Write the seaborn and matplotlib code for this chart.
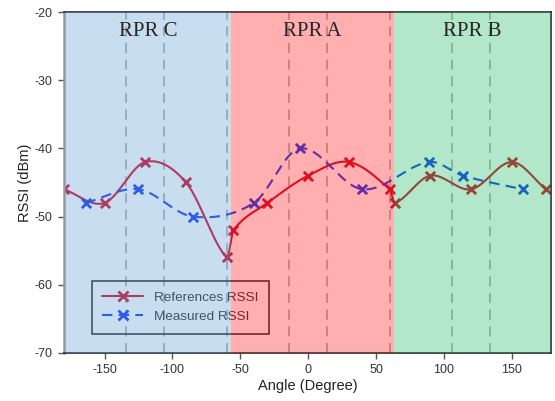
import numpy as np
import pandas as pd
import matplotlib
matplotlib.use("Agg")
import matplotlib.pyplot as plt
from matplotlib.lines import Line2D
import seaborn as sns

# reference / measured RSSI
ref_angle = [-180, -150, -120, -90, -60, -55, -30, 0, 30, 60, 64, 90, 120, 150, 175]
ref_rssi = [-46, -48, -42, -45, -56, -52, -48, -44, -42, -46, -48, -44, -46, -42, -46]
meas_angle = [-164, -125, -85, -40, -6, 40, 89, 114, 158]
meas_rssi = [-48, -46, -50, -48, -40, -46, -42, -44, -46]

# RPR regions (start, end, colour, label)
region_edges = [-179, -57, 63, 179]
region_names = ["RPR C", "RPR A", "RPR B"]
region_colors = ["#5a9bd4", "#ff0d0d", "#16b85c"]
guide_angles = [-134, -106, -60, -14, 14, 60, 106, 134]


def smooth(x, y, n=40):
    # cubic hermite through the points (catmull-rom style slopes)
    x = np.asarray(x, float)
    y = np.asarray(y, float)
    m = np.zeros_like(y)
    m[1:-1] = (y[2:] - y[:-2]) / (x[2:] - x[:-2])
    m[0] = (y[1] - y[0]) / (x[1] - x[0])
    m[-1] = (y[-1] - y[-2]) / (x[-1] - x[-2])
    xs, ys = [], []
    for i in range(len(x) - 1):
        h = x[i + 1] - x[i]
        t = np.linspace(0, 1, n, endpoint=(i == len(x) - 2))
        h00 = 2 * t**3 - 3 * t**2 + 1
        h10 = t**3 - 2 * t**2 + t
        h01 = -2 * t**3 + 3 * t**2
        h11 = t**3 - t**2
        xs.append(x[i] + t * h)
        ys.append(h00 * y[i] + h10 * h * m[i] + h01 * y[i + 1] + h11 * h * m[i + 1])
    return np.concatenate(xs), np.concatenate(ys)


sns.set_style("white")
plt.rcParams["font.family"] = ["Liberation Sans", "DejaVu Sans"]
plt.rcParams["axes.unicode_minus"] = False

f, ax = plt.subplots(figsize=(5.55, 4.01), dpi=100)
f.subplots_adjust(left=0.115, right=0.993, bottom=0.12, top=0.97)

red = "#d0102c"
blue = "#1a3cf0"

rx, ry = smooth(ref_angle, ref_rssi)
mx, my = smooth(meas_angle, meas_rssi)
sns.lineplot(x=rx, y=ry, sort=False, estimator=None, color=red, lw=1.5, ax=ax, zorder=2)
sns.lineplot(x=mx, y=my, sort=False, estimator=None, color=blue, lw=1.5, ax=ax, zorder=2)
ax.lines[-1].set_dashes((5, 3))
sns.scatterplot(x=ref_angle, y=ref_rssi, marker="x", color=red, s=45, linewidth=2, ax=ax, zorder=2.2)
sns.scatterplot(x=meas_angle, y=meas_rssi, marker="x", color=blue, s=45, linewidth=2, ax=ax, zorder=2.2)

for a in guide_angles:
    ax.axvline(a, color="#ababab", lw=1.2, ls=(0, (6, 4)), zorder=1.5)
ax.axvline(-92, color="white", lw=1, zorder=1.5)

# coloured regions drawn over everything, like the original
for i in range(3):
    ax.axvspan(region_edges[i], region_edges[i + 1], color=region_colors[i],
               alpha=0.33, lw=0, zorder=3)
    ax.text((region_edges[i] + region_edges[i + 1]) / 2, -22.9, region_names[i],
            ha="center", va="center", fontsize=15, family="Liberation Serif", zorder=5)

handles = [Line2D([], [], color=red, lw=1.5, marker="x", ms=7, mew=2),
           Line2D([], [], color=blue, lw=1.5, ls=(0, (5, 3)), marker="x", ms=7, mew=2)]
leg = ax.legend(handles, ["References RSSI", "Measured RSSI"], loc="lower left",
                bbox_to_anchor=(0.057, 0.056), borderaxespad=0, fontsize=9.7,
                fancybox=False, facecolor="none", framealpha=1, edgecolor="#333333",
                handlelength=3, labelcolor="#333333", borderpad=0.8)
leg.get_frame().set_linewidth(1.2)
leg.set_zorder(2.8)

ax.set_xlim(-180, 179)
ax.set_ylim(-70, -20)
ax.set_xticks([-150, -100, -50, 0, 50, 100, 150])
ax.set_yticks([-70, -60, -50, -40, -30, -20])
ax.tick_params(axis="both", direction="out", length=4, width=1, color="#555555",
               labelsize=9, labelcolor="#333333", pad=4)
ax.tick_params(axis="x", bottom=True)
ax.tick_params(axis="y", left=True)
ax.set_xlabel("Angle (Degree)", fontsize=10.5, color="#222222", labelpad=2)
ax.set_ylabel("RSSI (dBm)", fontsize=10.5, color="#222222", labelpad=2)

for side in ["top", "right", "bottom"]:
    ax.spines[side].set_color("#2a2a2a")
    ax.spines[side].set_linewidth(1.2)
ax.spines["left"].set_color("#999999")
ax.spines["left"].set_linewidth(1.8)

f.savefig("out.png", dpi=100)
plt.close("all")
